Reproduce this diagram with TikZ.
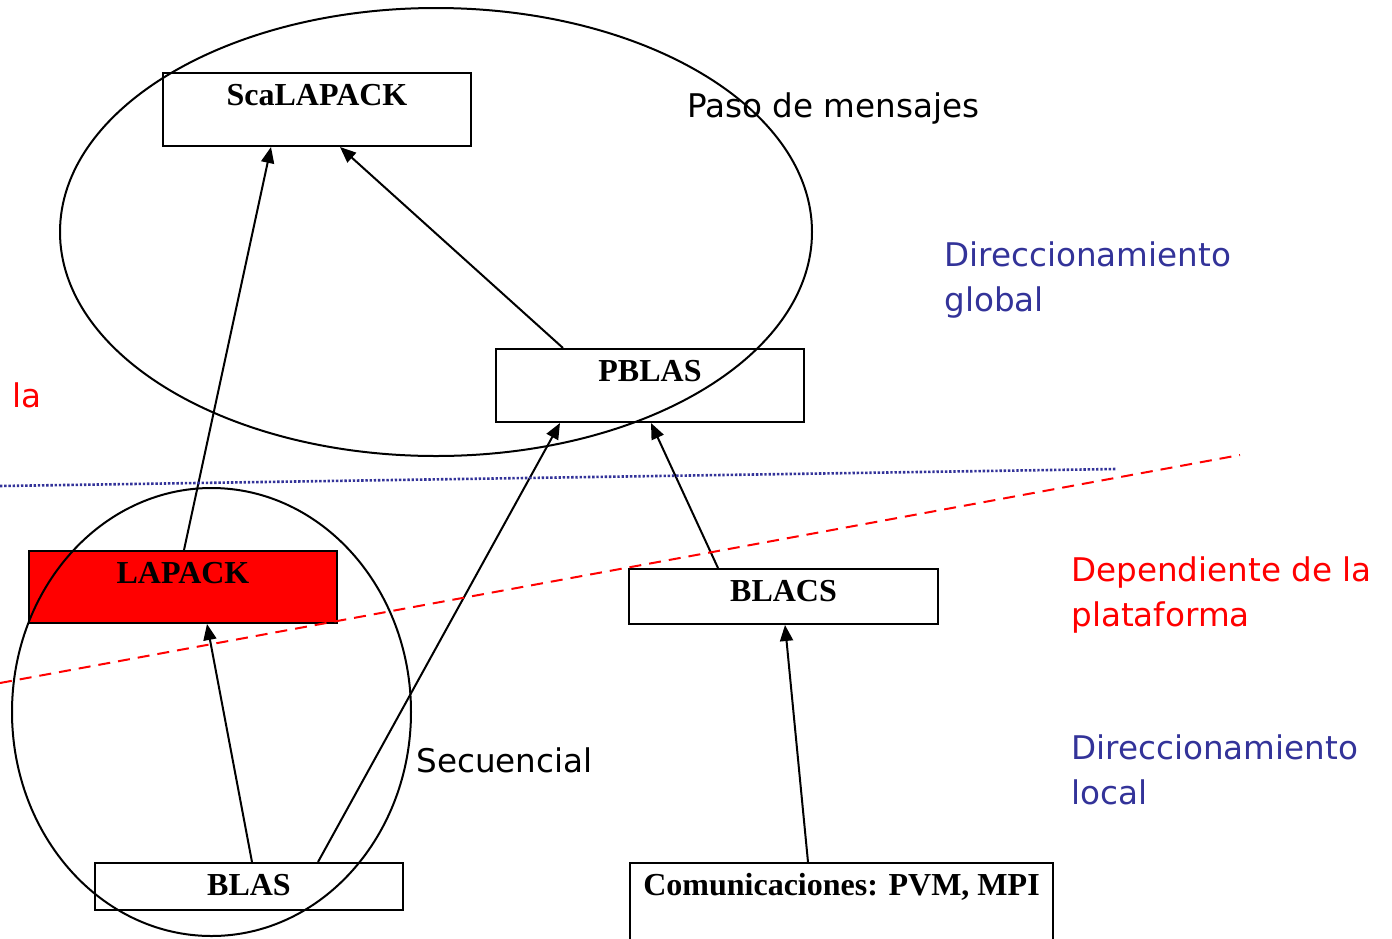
\documentclass[tikz,border=0pt]{standalone}
\usepackage{fontspec}
\setmainfont{Liberation Serif}
\newfontfamily\labsans{DejaVu Sans}
\usetikzlibrary{arrows.meta}
\definecolor{dblue}{RGB}{51,51,153}
\definecolor{pred}{RGB}{255,0,0}
\begin{document}
\begin{tikzpicture}[x=0.5pt,y=-0.5pt,
  box/.style={draw=black,line width=1pt,fill=white,inner sep=0pt,anchor=north west,
    font=\fontsize{16}{19}\selectfont\bfseries,text height=16pt},
  arr/.style={line width=1pt,-{Triangle[length=8pt,width=6.5pt]}},
  lab/.style={anchor=base west,inner sep=0pt,align=left,font=\labsans\fontsize{16.3}{22.5}\selectfont},
  ring/.style={line width=1pt}]
\useasboundingbox (0,0) rectangle (1392,938);
% boxes
\node[box,minimum width=154pt,text depth=20.5pt] (scal) at (162,72) {ScaLAPACK};
\node[box,minimum width=154pt,text depth=20.5pt] (pblas) at (495,348) {PBLAS};
\node[box,minimum width=154pt,text depth=20pt,fill=pred] (lapack) at (28,550) {LAPACK};
\node[box,minimum width=154.5pt,text depth=11.5pt] (blacs) at (628,568) {BLACS};
\node[box,minimum width=154pt,text depth=7.5pt] (blas) at (94,862) {BLAS};
\node[box,minimum width=211.5pt,text depth=30pt] (comm) at (629,862) {Comunicaciones: PVM, MPI};
% ellipses
\draw[ring] (436,232) ellipse [x radius=188pt,y radius=112pt];
\draw[ring] (211.5,712) ellipse [x radius=99.75pt,y radius=112pt];
% arrows
\draw[arr] ([xshift=78pt]lapack.north west) -- ([xshift=54.5pt]scal.south west);
\draw[arr] ([xshift=34pt]pblas.north west) -- ([xshift=89pt]scal.south west);
\draw[arr] ([xshift=112pt]blas.north west) -- ([xshift=32.5pt]pblas.south west);
\draw[arr] ([xshift=45pt]blacs.north west) -- ([xshift=78pt]pblas.south west);
\draw[arr] ([xshift=79pt]blas.north west) -- ([xshift=89.5pt]lapack.south west);
\draw[arr] ([xshift=89.5pt]comm.north west) -- ([xshift=78.5pt]blacs.south west);
% separator lines
\coordinate (dotA) at (0,486);
\coordinate (dotB) at (1116,469);
\coordinate (dashA) at (0,683);
\coordinate (dashB) at (1240,455);
\draw[dblue,line width=1.3pt,dash pattern=on 1.2pt off 0.9pt] (dotA) -- (dotB);
\draw[pred,line width=1pt,dash pattern=on 6pt off 4pt] (dashA) -- (dashB);
% labels
\node[lab] (paso) at (687,117) {Paso de mensajes};
\node[lab,text=dblue] (dglob) at (944,311) {Direccionamiento\\global};
\node[lab,text=pred] (dep) at (1071,626) {Dependiente de la\\plataforma};
\node[lab,text=dblue] (dloc) at (1071,804) {Direccionamiento\\local};
\node[lab] (sec) at (416,772) {Secuencial};
\node[lab,text=pred] (la) at (12,407) {la};
\end{tikzpicture}
\end{document}
